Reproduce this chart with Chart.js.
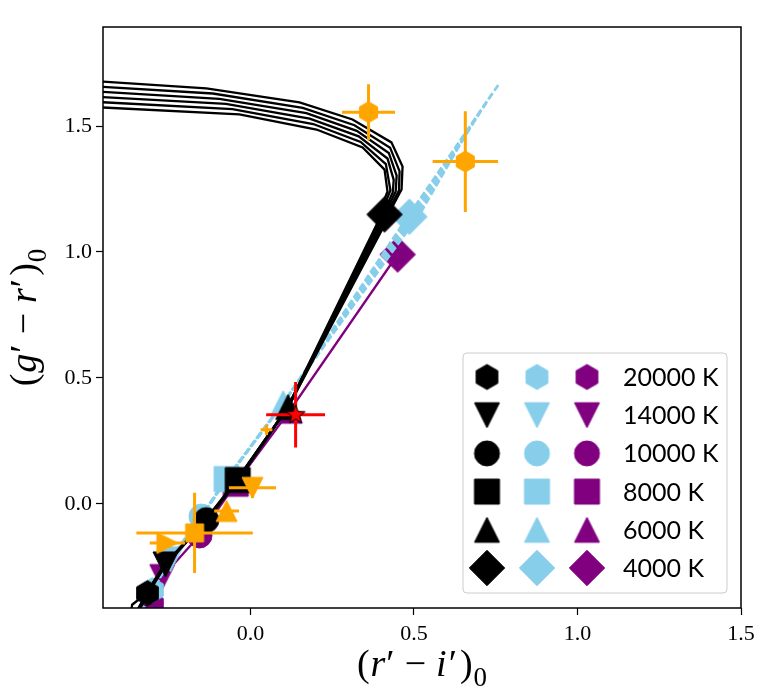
<!DOCTYPE html>
<html>
<head>
<meta charset="utf-8">
<script src="https://cdn.jsdelivr.net/npm/chart.js@4.4.0/dist/chart.umd.min.js"></script>
<style>
  html, body { margin: 0; padding: 0; background: #fff; }
</style>
</head>
<body>
<canvas id="chart" width="764" height="693"></canvas>
<script>
// legend rows / marker shapes, hottest first
const tempLabels = ['20000 K', '14000 K', '10000 K', '8000 K', '6000 K', '4000 K']
const tempShapes = ['hex', 'down', 'circle', 'square', 'up', 'diamond']

// model markers at each temperature
const blackMarkX = [-0.315, -0.26, -0.135, -0.039, 0.115, 0.41]
const blackMarkY = [-0.354, -0.24, -0.064, 0.095, 0.385, 1.149]
const blueMarkX = [-0.30, -0.245, -0.15, -0.073, 0.10, 0.486]
const blueMarkY = [-0.342, -0.22, -0.05, 0.099, 0.40, 1.14]
const purpleMarkX = [-0.30, -0.27, -0.156, -0.045, 0.12, 0.45]
const purpleMarkY = [-0.40, -0.29, -0.125, 0.08, 0.37, 0.99]

// black model tracks
const blackTrack1 = [[-0.372, -0.50], [-0.312, -0.352], [-0.257, -0.238], [-0.132, -0.062], [-0.036, 0.097], [0.118, 0.39], [0.415, 1.12], [0.434, 1.180], [0.462, 1.248], [0.465, 1.339], [0.431, 1.435], [0.312, 1.526], [0.150, 1.594], [-0.135, 1.649], [-0.46, 1.677]]
const blackTrack2 = [[-0.374, -0.50], [-0.313, -0.353], [-0.258, -0.239], [-0.133, -0.063], [-0.037, 0.096], [0.117, 0.388], [0.410, 1.12], [0.427, 1.178], [0.454, 1.244], [0.456, 1.320], [0.427, 1.414], [0.318, 1.503], [0.160, 1.572], [-0.115, 1.629], [-0.46, 1.656]]
const blackTrack3 = [[-0.376, -0.50], [-0.315, -0.354], [-0.26, -0.24], [-0.135, -0.064], [-0.039, 0.095], [0.115, 0.386], [0.405, 1.12], [0.420, 1.176], [0.444, 1.240], [0.447, 1.303], [0.423, 1.393], [0.325, 1.481], [0.171, 1.551], [-0.095, 1.608], [-0.46, 1.636]]
const blackTrack4 = [[-0.378, -0.50], [-0.317, -0.355], [-0.262, -0.241], [-0.137, -0.065], [-0.041, 0.094], [0.114, 0.384], [0.400, 1.12], [0.413, 1.174], [0.435, 1.236], [0.438, 1.286], [0.419, 1.371], [0.331, 1.459], [0.181, 1.529], [-0.075, 1.588], [-0.46, 1.615]]
const blackTrack5 = [[-0.38, -0.50], [-0.318, -0.356], [-0.263, -0.242], [-0.138, -0.066], [-0.042, 0.093], [0.113, 0.382], [0.395, 1.12], [0.405, 1.171], [0.428, 1.245], [0.414, 1.349], [0.337, 1.437], [0.192, 1.508], [-0.055, 1.567], [-0.46, 1.595]]
const blackTrack6 = [[-0.372, -0.50], [-0.362, -0.40], [-0.32, -0.357], [-0.265, -0.243], [-0.14, -0.067], [-0.044, 0.092], [0.112, 0.38], [0.390, 1.12], [0.398, 1.169], [0.419, 1.24], [0.410, 1.327], [0.343, 1.415], [0.202, 1.486], [-0.034, 1.546], [-0.46, 1.574]]

// light blue (dashed) model tracks
const blueTrack1 = [[-0.362, -0.50], [-0.298, -0.340], [-0.243, -0.218], [-0.148, -0.048], [-0.071, 0.101], [0.102, 0.402], [0.47, 1.12], [0.761, 1.669]]
const blueTrack2 = [[-0.364, -0.50], [-0.299, -0.341], [-0.244, -0.219], [-0.149, -0.049], [-0.072, 0.100], [0.101, 0.401], [0.48, 1.13], [0.74, 1.63]]
const blueTrack3 = [[-0.366, -0.50], [-0.300, -0.342], [-0.245, -0.220], [-0.150, -0.050], [-0.073, 0.099], [0.100, 0.400], [0.49, 1.14], [0.72, 1.59]]
const blueTrack4 = [[-0.368, -0.50], [-0.301, -0.343], [-0.246, -0.221], [-0.151, -0.051], [-0.074, 0.098], [0.099, 0.399], [0.50, 1.145], [0.70, 1.55]]
const blueTrack5 = [[-0.370, -0.50], [-0.302, -0.344], [-0.247, -0.222], [-0.152, -0.052], [-0.075, 0.097], [0.098, 0.398], [0.51, 1.15], [0.68, 1.51]]
const blueTrack6 = [[-0.372, -0.50], [-0.303, -0.345], [-0.248, -0.223], [-0.153, -0.053], [-0.076, 0.096], [0.097, 0.397], [0.52, 1.155], [0.66, 1.47]]

// purple model track
const purpleTrack = [[-0.335, -0.50], [-0.30, -0.40], [-0.27, -0.29], [-0.156, -0.125], [-0.045, 0.08], [0.12, 0.37], [0.45, 0.99]]

// observed colours with errors
const obsX = [0.361, 0.657, 0.138, 0.049, 0.006, -0.073, -0.171, -0.254]
const obsY = [1.555, 1.359, 0.354, 0.294, 0.064, -0.028, -0.115, -0.155]
const obsXErr = [0.081, 0.10, 0.09, 0.018, 0.072, 0.038, 0.178, 0.054]
const obsYErr = [0.111, 0.20, 0.13, 0.02, 0.04, 0.02, 0.159, 0.02]
const obsShapes = ['hex', 'hex', 'star', 'dot', 'down', 'up', 'square', 'right']
const obsColors = ['#ffa500', '#ffa500', '#ff0000', '#ffa500', '#ffa500', '#ffa500', '#ffa500', '#ffa500']

const BLACK = '#000000'
const SKY = '#87ceeb'
const PURPLE = '#800080'

const makeMarker = (shape, fill, ms, edge) => {
  const half = shape === 'diamond' ? ms / Math.SQRT2 : ms / 2
  const size = Math.ceil(2 * half + 6)
  const c = document.createElement('canvas')
  c.width = size
  c.height = size
  const g = c.getContext('2d')
  g.translate(size / 2, size / 2)
  const r = ms / 2
  g.beginPath()
  if (shape === 'hex') {
    for (let k = 0; k < 6; k++) {
      const a = -Math.PI / 2 + k * Math.PI / 3
      if (k === 0) g.moveTo(r * Math.cos(a), r * Math.sin(a))
      else g.lineTo(r * Math.cos(a), r * Math.sin(a))
    }
  } else if (shape === 'down') {
    g.moveTo(-r, -r); g.lineTo(r, -r); g.lineTo(0, r)
  } else if (shape === 'up') {
    g.moveTo(-r, r); g.lineTo(r, r); g.lineTo(0, -r)
  } else if (shape === 'right') {
    g.moveTo(-r, -r); g.lineTo(r, 0); g.lineTo(-r, r)
  } else if (shape === 'circle' || shape === 'dot') {
    g.arc(0, 0, r, 0, Math.PI * 2)
  } else if (shape === 'square') {
    g.rect(-r, -r, 2 * r, 2 * r)
  } else if (shape === 'diamond') {
    g.moveTo(0, -half); g.lineTo(half, 0); g.lineTo(0, half); g.lineTo(-half, 0)
  } else if (shape === 'star') {
    for (let k = 0; k < 10; k++) {
      const a = -Math.PI / 2 + k * Math.PI / 5
      const rr = k % 2 ? r * 0.42 : r
      if (k === 0) g.moveTo(rr * Math.cos(a), rr * Math.sin(a))
      else g.lineTo(rr * Math.cos(a), rr * Math.sin(a))
    }
  }
  g.closePath()
  g.fillStyle = fill
  g.fill()
  g.lineWidth = 1
  g.strokeStyle = edge || fill
  g.stroke()
  return c
}

const MS = 25
const blackIcons = tempShapes.map((s) => makeMarker(s, BLACK, MS))
const blueIcons = tempShapes.map((s) => makeMarker(s, SKY, MS))
const purpleIcons = tempShapes.map((s) => makeMarker(s, PURPLE, MS))
const obsIcons = obsShapes.map((s, i) => {
  if (s === 'star') return makeMarker(s, obsColors[i], 20, BLACK)
  if (s === 'dot') return makeMarker(s, obsColors[i], 4)
  if (s === 'square') return makeMarker(s, obsColors[i], 18)
  return makeMarker(s, obsColors[i], 21)
})

const toPoints = (pairs) => pairs.map(([x, y]) => ({ x, y }))
const zipPoints = (xs, ys) => xs.map((x, i) => ({ x, y: ys[i] }))

const trackLine = (pairs, color, order, dashed) => ({
  data: toPoints(pairs),
  showLine: true,
  borderColor: color,
  borderWidth: dashed ? 2.6 : 2.3,
  borderDash: dashed ? [7, 3] : [],
  pointRadius: 0,
  fill: false,
  clip: 0,
  order,
})

const markerSet = (xs, ys, icons, order) => ({
  data: zipPoints(xs, ys),
  showLine: false,
  pointStyle: icons,
  pointRadius: 10,
  clip: 0,
  order,
})

// draws error bars under the markers of a dataset
const errorBars = {
  id: 'errorBars',
  beforeDatasetDraw(chart, args) {
    const ds = chart.data.datasets[args.index]
    if (!ds.xErr) return
    const { ctx, chartArea: a, scales: { x, y } } = chart
    ctx.save()
    ctx.beginPath()
    ctx.rect(a.left, a.top, a.right - a.left, a.bottom - a.top)
    ctx.clip()
    ctx.lineWidth = 3
    ds.data.forEach((p, i) => {
      const px = x.getPixelForValue(p.x)
      const py = y.getPixelForValue(p.y)
      ctx.strokeStyle = ds.barColors[i]
      ctx.beginPath()
      ctx.moveTo(x.getPixelForValue(p.x - ds.xErr[i]), py)
      ctx.lineTo(x.getPixelForValue(p.x + ds.xErr[i]), py)
      ctx.moveTo(px, y.getPixelForValue(p.y - ds.yErr[i]))
      ctx.lineTo(px, y.getPixelForValue(p.y + ds.yErr[i]))
      ctx.stroke()
    })
    ctx.restore()
  },
}

// full box around the axes, like matplotlib spines
const frame = {
  id: 'frame',
  afterDatasetsDraw(chart) {
    const { ctx, chartArea: a } = chart
    ctx.save()
    ctx.strokeStyle = BLACK
    ctx.lineWidth = 1.5
    ctx.strokeRect(a.left, a.top, a.right - a.left, a.bottom - a.top)
    ctx.restore()
  },
}

// math-like axis titles: (r' - i')_0 and (g' - r')_0
const drawMath = (ctx, parts, cx, baseline, size) => {
  const fontOf = (p) => `${p.it ? 'italic ' : ''}${p.sub ? Math.round(size * 0.7) : size}px "Liberation Serif"`
  let width = 0
  parts.forEach((p) => {
    ctx.font = fontOf(p)
    width += ctx.measureText(p.t).width + (p.gap || 0)
  })
  let x = cx - width / 2
  parts.forEach((p) => {
    ctx.font = fontOf(p)
    ctx.fillText(p.t, x, baseline + (p.sub ? size * 0.26 : 0))
    x += ctx.measureText(p.t).width + (p.gap || 0)
  })
}

const xTitle = [
  { t: '(', gap: 1 }, { t: 'r', it: true, gap: 1 }, { t: '′', gap: 10 }, { t: '−', gap: 10 },
  { t: 'i', it: true, gap: 2 }, { t: '′', gap: 3 }, { t: ')', gap: 1 }, { t: '0', sub: true },
]
const yTitle = [
  { t: '(', gap: 1 }, { t: 'g', it: true, gap: 1 }, { t: '′', gap: 10 }, { t: '−', gap: 10 },
  { t: 'r', it: true, gap: 1 }, { t: '′', gap: 3 }, { t: ')', gap: 1 }, { t: '0', sub: true },
]

const axisTitles = {
  id: 'axisTitles',
  afterDraw(chart) {
    const { ctx, chartArea: a } = chart
    ctx.save()
    ctx.fillStyle = BLACK
    ctx.textBaseline = 'alphabetic'
    ctx.textAlign = 'left'
    drawMath(ctx, xTitle, (a.left + a.right) / 2, 676, 38)
    ctx.translate(36, (a.top + a.bottom) / 2)
    ctx.rotate(-Math.PI / 2)
    drawMath(ctx, yTitle, 0, 0, 38)
    ctx.restore()
  },
}

// three marker columns per row, then the temperature label
const tempLegend = {
  id: 'tempLegend',
  afterDraw(chart) {
    const { ctx } = chart
    const left = 463, top = 353, w = 264, h = 240, rad = 4
    ctx.save()
    ctx.beginPath()
    ctx.roundRect(left, top, w, h, rad)
    ctx.fillStyle = 'rgba(255,255,255,0.8)'
    ctx.fill()
    ctx.strokeStyle = '#cccccc'
    ctx.lineWidth = 1
    ctx.stroke()
    ctx.font = '25px Lato'
    ctx.fillStyle = BLACK
    ctx.textBaseline = 'middle'
    ctx.textAlign = 'left'
    const columns = [blackIcons, blueIcons, purpleIcons]
    tempLabels.forEach((label, i) => {
      const cy = 377 + i * 38.2
      columns.forEach((icons, j) => {
        const icon = icons[i]
        ctx.drawImage(icon, 487 + j * 50 - icon.width / 2, cy - icon.height / 2)
      })
      ctx.fillText(label, 623, cy + 1)
    })
    ctx.restore()
  },
}

const fixedBox = (w, h) => (scale) => {
  if (w !== undefined) scale.width = w
  if (h !== undefined) scale.height = h
}

const tickFont = { family: '"Liberation Serif"', size: 22 }

const blackTracks = [blackTrack1, blackTrack2, blackTrack3, blackTrack4, blackTrack5, blackTrack6]
const blueTracks = [blueTrack1, blueTrack2, blueTrack3, blueTrack4, blueTrack5, blueTrack6]

const datasets = [
  trackLine(purpleTrack, PURPLE, 10, false),
  markerSet(purpleMarkX, purpleMarkY, purpleIcons, 9),
  ...blueTracks.map((t) => trackLine(t, SKY, 8, true)),
  markerSet(blueMarkX, blueMarkY, blueIcons, 7),
  ...blackTracks.map((t) => trackLine(t, BLACK, 6, false)),
  markerSet(blackMarkX, blackMarkY, blackIcons, 5),
  {
    ...markerSet(obsX, obsY, obsIcons, 1),
    xErr: obsXErr,
    yErr: obsYErr,
    barColors: obsColors,
  },
]

new Chart(document.getElementById('chart'), {
  type: 'scatter',
  data: { datasets },
  options: {
    responsive: false,
    devicePixelRatio: 1,
    animation: false,
    events: [],
    layout: { padding: { top: 27, right: 23, bottom: 0, left: 0 } },
    plugins: {
      legend: { display: false },
      tooltip: { enabled: false },
    },
    scales: {
      x: {
        type: 'linear',
        min: -0.451,
        max: 1.5,
        afterFit: fixedBox(undefined, 85),
        border: { display: false },
        grid: { drawOnChartArea: false, drawTicks: true, tickLength: 7, tickWidth: 1.2, tickColor: BLACK },
        ticks: {
          stepSize: 0.5,
          includeBounds: false,
          padding: 6,
          color: BLACK,
          font: tickFont,
          maxRotation: 0,
          callback: (v) => v.toFixed(1),
        },
      },
      y: {
        type: 'linear',
        min: -0.413,
        max: 1.893,
        afterFit: fixedBox(103, undefined),
        border: { display: false },
        grid: { drawOnChartArea: false, drawTicks: true, tickLength: 7, tickWidth: 1.2, tickColor: BLACK },
        ticks: {
          stepSize: 0.5,
          includeBounds: false,
          padding: 4,
          color: BLACK,
          font: tickFont,
          callback: (v) => v.toFixed(1),
        },
      },
    },
  },
  plugins: [errorBars, frame, axisTitles, tempLegend],
})
</script>
</body>
</html>
